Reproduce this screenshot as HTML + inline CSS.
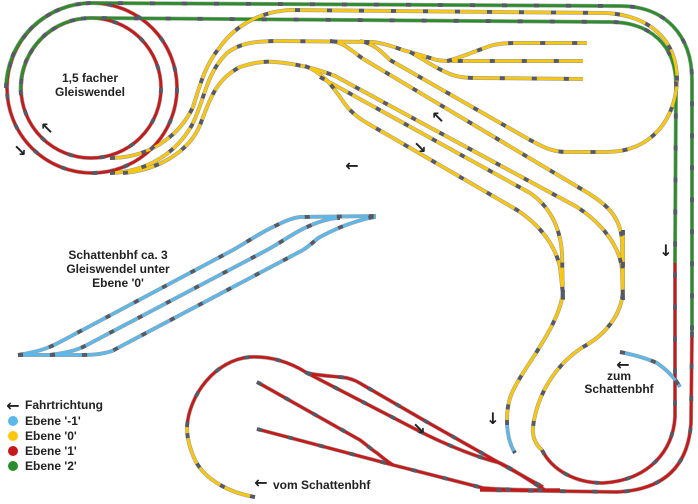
<!DOCTYPE html>
<html><head><meta charset="utf-8"><style>
html,body{margin:0;padding:0;background:#fff}
svg{display:block}
text{font-family:"Liberation Sans",Arial,sans-serif;font-weight:bold;fill:#222}
.e{fill:none;stroke:#a0a0a0;stroke-width:4}
.c{fill:none;stroke-width:2.8}
.d{fill:none;stroke:#555a66;stroke-width:3.8;stroke-dasharray:5 27}
.y{stroke:#f9c80e}.r{stroke:#c41a1a}.g{stroke:#2a8e2a}.b{stroke:#5bb8ea}
.ar{font-family:"DejaVu Sans",sans-serif;font-weight:bold}
</style></head><body>
<svg width="698" height="504" viewBox="0 0 698 504" xmlns="http://www.w3.org/2000/svg">
<defs>
<circle id="co" cx="92" cy="88" r="85"/>
<circle id="ci" cx="91" cy="88" r="70"/>
<path id="go" d="M6,88 A86,86 0 0 1 92,3 L620,6 C665,6 692,35 692,80 L692,332"/>
<path id="gi" d="M21,95 A70,70 0 0 1 91,18 L610,22 C650,22 676,45 676,85 L675,263"/>
<path id="ro" d="M692,332 L691,423 C688,470 660,490 617,492 L480,490"/>
<path id="ri" d="M542,450 C552,470 575,483 603,483 C650,480 673,450 675,417 L675,263"/>
<path id="ya" d="M110,158 C150,158 180,135 193,107 C200,85 205,65 220,47 C232,30 255,12 290,10 L607,13 C650,16 677,40 677,80 C676,120 650,152 607,152 L567,152 C550,152 540,145 530,140 L390,60 C380,50 372,43 360,41"/>
<path id="yb" d="M110,173 C150,172 178,150 192,125 C205,100 205,75 227,53 C240,43 255,41 280,41 L373,42 C390,44 400,50 410,52 L437,60 C442,61 445,61 450,61 L583,61"/>
<path id="yb1" d="M447,61 C460,58 470,53 490,46 C500,43 510,43 520,43 L587,43"/>
<path id="yb2" d="M410,52 C425,60 435,68 450,74 C460,78 470,78 480,78 L583,79"/>
<path id="d2" d="M330,41 C345,42 352,52 365,60 L583,190 C605,203 620,215 622,240 L623,300"/>
<path id="yc" d="M123,173 C160,170 190,150 200,125 C210,100 215,80 240,67 C255,62 265,61 275,62 C300,64 320,70 335,76 L577,207 C600,222 620,245 622,270 L623,300"/>
<path id="d4" d="M320,77 L530,193 C548,205 560,225 562,253 L563,300"/>
<path id="d5" d="M305,66 C330,75 340,100 350,110 C355,115 360,119 367,123 L517,210 C540,225 555,245 560,267 L563,295"/>
<path id="yl" d="M563,290 C562,320 530,360 517,383 C510,395 507,405 507,420"/>
<path id="bl" d="M507,420 C507,435 510,445 515,453"/>
<path id="yr" d="M623,230 L623,290 C622,315 605,335 583,347 C555,365 537,395 533,427 C532,437 536,445 542,450"/>
<path id="yv" d="M255,497 C230,493 205,480 195,460 C188,445 187,435 187,427"/>
<path id="rl" d="M187,427 C189,395 215,360 250,357 C270,356 290,362 307,373 L417,430 C450,447 480,458 500,463 C515,470 528,480 545,490"/>
<path id="rl2" d="M307,373 C320,376 335,376 347,378 C355,380 358,382 363,385 L427,422 L503,465 L543,487"/>
<path id="rm" d="M257,382 L360,440 C368,446 372,450 377,453 C383,458 388,462 393,465"/>
<path id="rn" d="M257,429 L393,465 L483,488 C510,490 530,490 560,490"/>
<path id="b1" d="M18,355 C35,352 45,350 60,342 L233,250 C250,240 262,232 273,227 C285,221 292,218 300,217 L376,216"/>
<path id="b2" d="M50,355 C65,353 75,351 85,346 L267,250 C285,240 295,232 307,227 C320,221 330,218 340,218"/>
<path id="b3" d="M18,355 L73,355 C90,355 100,355 112,351 L303,250 C312,244 315,240 320,237 C335,229 345,225 355,222 C365,219 370,217 376,217"/>
<path id="bz" d="M620,352 C635,355 648,359 657,363 C667,370 675,378 680,387"/>
</defs>
<g class="e">
<use href="#co"/><use href="#ci"/><use href="#go"/><use href="#gi"/><use href="#ro"/><use href="#ri"/><use href="#ya"/><use href="#yb"/><use href="#yb1"/><use href="#yb2"/><use href="#d2"/><use href="#yc"/><use href="#d4"/><use href="#d5"/><use href="#yl"/><use href="#bl"/><use href="#yr"/><use href="#yv"/><use href="#rl"/><use href="#rl2"/><use href="#rm"/><use href="#rn"/><use href="#b1"/><use href="#b2"/><use href="#b3"/><use href="#bz"/>
</g>
<g class="c">
<use href="#co" class="r"/><use href="#ci" class="r"/><use href="#go" class="g"/><use href="#gi" class="g"/><use href="#ro" class="r"/><use href="#ri" class="r"/>
<use href="#ya" class="y"/><use href="#yb" class="y"/><use href="#yb1" class="y"/><use href="#yb2" class="y"/><use href="#d2" class="y"/><use href="#yc" class="y"/><use href="#d4" class="y"/><use href="#d5" class="y"/><use href="#yl" class="y"/><use href="#bl" class="b"/><use href="#yr" class="y"/><use href="#yv" class="y"/>
<use href="#rl" class="r"/><use href="#rl2" class="r"/><use href="#rm" class="r"/><use href="#rn" class="r"/>
<use href="#b1" class="b"/><use href="#b2" class="b"/><use href="#b3" class="b"/><use href="#bz" class="b"/>
</g>
<g class="d">
<use href="#co"/><use href="#ci"/><use href="#go"/><use href="#gi"/><use href="#ro"/><use href="#ri"/><use href="#ya"/><use href="#yb"/><use href="#yb1"/><use href="#yb2"/><use href="#d2"/><use href="#yc"/><use href="#d4"/><use href="#d5"/><use href="#yl"/><use href="#bl"/><use href="#yr"/><use href="#yv"/><use href="#rl"/><use href="#rl2"/><use href="#rm"/><use href="#rn"/><use href="#b1"/><use href="#b2"/><use href="#b3"/><use href="#bz"/>
</g>
<g font-size="12" text-anchor="middle">
<text x="90" y="82">1,5 facher</text>
<text x="90" y="96">Gleiswendel</text>
<text x="118" y="259">Schattenbhf ca. 3</text>
<text x="118" y="273">Gleiswendel unter</text>
<text x="118" y="287">Ebene '0'</text>
<text x="619" y="380">zum</text>
<text x="619" y="393">Schattenbhf</text>
</g>
<g font-size="12">
<text x="25" y="409">Fahrtrichtung</text>
<text x="25" y="425">Ebene '-1'</text>
<text x="25" y="440">Ebene '0'</text>
<text x="25" y="455">Ebene '1'</text>
<text x="25" y="470">Ebene '2'</text>
<text x="273" y="489">vom Schattenbhf</text>
</g>
<circle cx="13" cy="421" r="5" fill="#5bb8ea"/>
<circle cx="13" cy="436" r="5" fill="#f9c80e"/>
<circle cx="13" cy="451" r="5" fill="#c41a1a"/>
<circle cx="13" cy="466" r="5" fill="#2a8e2a"/>
<g font-size="16" text-anchor="middle">
<text class="ar" x="13" y="411">←</text>
<text class="ar" x="261" y="488">←</text>
<text class="ar" x="623" y="370">←</text>
<text class="ar" x="352" y="171">←</text>
<text class="ar" x="438" y="123">↖</text>
<text class="ar" x="420" y="153">↘</text>
<text class="ar" x="47" y="134">↖</text>
<text class="ar" x="20" y="156">↘</text>
<text class="ar" x="666" y="256">↓</text>
<text class="ar" x="493" y="424">↓</text>
<text class="ar" x="419" y="434">↘</text>
</g>
</svg>
</body></html>
